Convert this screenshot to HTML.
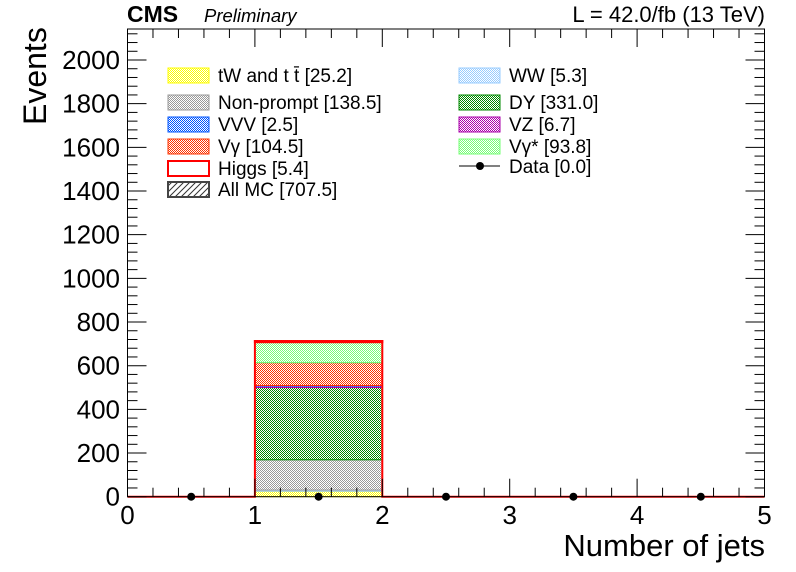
<!DOCTYPE html>
<html><head><meta charset="utf-8"><style>
body{margin:0;background:#fff;}
svg{display:block;font-family:"Liberation Sans",sans-serif;}
</style></head><body>
<svg id="c" width="796" height="572" viewBox="0 0 796 572">
<defs>
<pattern id="p-yellow" width="2" height="2" patternUnits="userSpaceOnUse"><rect width="2" height="2" fill="#fff"/><rect width="1" height="1" fill="#ffff00"/><rect x="1" y="1" width="1" height="1" fill="#ffff00"/></pattern>
<pattern id="p-grey" width="2" height="2" patternUnits="userSpaceOnUse"><rect width="2" height="2" fill="#fff"/><rect width="1" height="1" fill="#999"/><rect x="1" y="1" width="1" height="1" fill="#999"/></pattern>
<pattern id="p-blue" width="2" height="2" patternUnits="userSpaceOnUse"><rect width="2" height="2" fill="#fff"/><rect width="1" height="1" fill="#0055ff"/><rect x="1" y="1" width="1" height="1" fill="#0055ff"/></pattern>
<pattern id="p-orange" width="2" height="2" patternUnits="userSpaceOnUse"><rect width="2" height="2" fill="#fff"/><rect width="1" height="1" fill="#ff3300"/><rect x="1" y="1" width="1" height="1" fill="#ff3300"/></pattern>
<pattern id="p-lblue" width="2" height="2" patternUnits="userSpaceOnUse"><rect width="2" height="2" fill="#fff"/><rect width="1" height="1" fill="#99ccff"/><rect x="1" y="1" width="1" height="1" fill="#99ccff"/></pattern>
<pattern id="p-green" width="2" height="2" patternUnits="userSpaceOnUse"><rect width="2" height="2" fill="#fff"/><rect width="1" height="1" fill="#008800"/><rect x="1" y="1" width="1" height="1" fill="#008800"/></pattern>
<pattern id="p-purple" width="2" height="2" patternUnits="userSpaceOnUse"><rect width="2" height="2" fill="#fff"/><rect width="1" height="1" fill="#aa00aa"/><rect x="1" y="1" width="1" height="1" fill="#aa00aa"/></pattern>
<pattern id="p-lgreen" width="2" height="2" patternUnits="userSpaceOnUse"><rect width="2" height="2" fill="#fff"/><rect width="1" height="1" fill="#77ff77"/><rect x="1" y="1" width="1" height="1" fill="#77ff77"/></pattern>
<pattern id="p-hatch" width="6" height="6" patternUnits="userSpaceOnUse"><path d="M0,6 L6,0 M-1,1 L1,-1 M5,7 L7,5" stroke="#333" stroke-width="1"/></pattern>
</defs>
<g id="marks"></g>
<g id="axes"></g>
<g id="legend"></g>
<text x="127" y="22" font-size="23" font-weight="bold">CMS</text>
<text x="204" y="22" font-size="18.5" font-style="italic">Preliminary</text>
<text x="765" y="22" font-size="22" text-anchor="end">L = 42.0/fb (13 TeV)</text>
<text x="765" y="556" font-size="31" text-anchor="end">Number of jets</text>
<text transform="translate(46,125) rotate(-90)" font-size="32" text-anchor="start">Events</text>
</svg>
<script>
const binEdges=[0,1,2,3,4,5];
const stackNames=["tW and tt","WW","Non-prompt","DY","VZ","VVV","Vγ","Vγ*","Higgs"];
const stackFills=["url(#p-yellow)","url(#p-lblue)","url(#p-grey)","url(#p-green)","url(#p-purple)","url(#p-blue)","url(#p-orange)","url(#p-lgreen)","none"];
const stackStrokes=["#dddd00","#99ccff","#999","#008800","#aa00aa","#0055ff","#ff3300","#66ee66","#ff0000"];
const stackValues=[[0,25.2,0,0,0],[0,5.3,0,0,0],[0,138.5,0,0,0],[0,331.0,0,0,0],[0,6.7,0,0,0],[0,2.5,0,0,0],[0,104.5,0,0,0],[0,93.8,0,0,0],[0,5.4,0,0,0]];
const dataValues=[0,0,0,0,0];
const xTicks=[0,1,2,3,4,5];
const yTicks=[0,200,400,600,800,1000,1200,1400,1600,1800,2000];
const NS="http://www.w3.org/2000/svg";
const X0=127.5,X1=764.5,Y0=496.7,YT=29,XMAX=5,YMAX=2142;
const xs=v=>X0+(X1-X0)*v/XMAX;
const ys=v=>Y0-(Y0-YT)*v/YMAX;
function mk(t,a,p){const e=document.createElementNS(NS,t);for(const k in a)e.setAttribute(k,a[k]);p.appendChild(e);return e;}
const marks=document.getElementById('marks'),axes=document.getElementById('axes'),leg=document.getElementById('legend');
for(let b=0;b<binEdges.length-1;b++){
  let cum=0;
  for(let s=0;s<stackNames.length;s++){
    const v=stackValues[s][b];
    if(v<=0){cum+=v;continue;}
    const r=mk('rect',{x:xs(binEdges[b]),y:ys(cum+v),width:xs(binEdges[b+1])-xs(binEdges[b]),height:ys(cum)-ys(cum+v),fill:stackFills[s],stroke:stackStrokes[s],'stroke-width':s==8?2:1},marks);
    
    
    cum+=v;
  }
}
let d='';let tot=[];
for(let b=0;b<binEdges.length-1;b++){let c=0;for(let s=0;s<stackNames.length;s++)c+=stackValues[s][b];tot.push(c);}
d='M'+xs(binEdges[0])+','+ys(tot[0]);
for(let b=0;b<tot.length;b++){d+=' L'+xs(binEdges[b])+','+ys(tot[b])+' L'+xs(binEdges[b+1])+','+ys(tot[b]);}
const hl=mk('path',{d:d,fill:'none',stroke:'#ff0000','stroke-width':2},marks);


for(let b=0;b<dataValues.length;b++){
  const cx=xs((binEdges[b]+binEdges[b+1])/2);
  const p=mk('circle',{cx:cx,cy:ys(dataValues[b]),r:4,fill:'#000'},marks);
  
  
}
const fr=mk('rect',{x:X0,y:YT,width:X1-X0,height:Y0-YT,fill:'none',stroke:'#000','stroke-width':1},axes);


for(let v=0;v<=XMAX+1e-9;v+=0.2){
  const maj=Math.abs(v-Math.round(v))<1e-6,L=maj?18:9,x=xs(v);
  mk('line',{x1:x,x2:x,y1:Y0,y2:Y0-L,stroke:'#000'},axes);
  mk('line',{x1:x,x2:x,y1:YT,y2:YT+L,stroke:'#000'},axes);
}
xTicks.forEach(v=>{const t=mk('text',{x:xs(v),y:524,'font-size':26,'text-anchor':'middle'},axes);t.textContent=v;

});
for(let v=0;v<=YMAX;v+=40){
  const maj=v%200===0,L=maj?19:10,y=ys(v);
  mk('line',{x1:X0,x2:X0+L,y1:y,y2:y,stroke:'#000'},axes);
  mk('line',{x1:X1,x2:X1-L,y1:y,y2:y,stroke:'#000'},axes);
}
yTicks.forEach(v=>{const t=mk('text',{x:120,y:ys(v)+9,'font-size':26,'text-anchor':'end'},axes);t.textContent=v;

});
const legItems=[
 [168,75,"url(#p-yellow)","#ffff00","tW and t t̄ [25.2]"],
 [168,102,"url(#p-grey)","#999","Non-prompt [138.5]"],
 [168,124,"url(#p-blue)","#0055ff","VVV [2.5]"],
 [168,146,"url(#p-orange)","#ff3300","Vγ [104.5]"],
 [168,168,"#fff","#ff0000","Higgs [5.4]"],
 [168,189,"url(#p-hatch)","#444","All MC [707.5]"],
 [459,75,"url(#p-lblue)","#99ccff","WW [5.3]"],
 [459,102,"url(#p-green)","#008800","DY [331.0]"],
 [459,124,"url(#p-purple)","#aa00aa","VZ [6.7]"],
 [459,146,"url(#p-lgreen)","#77ff77","Vγ* [93.8]"]];
legItems.forEach((it,i)=>{
  const g=mk('g',{},leg);
  
  
  mk('rect',{x:it[0],y:it[1]-7,width:41,height:15,fill:it[2],stroke:it[3],'stroke-width':(i==4||i==5)?2:1},g);
  const t=mk('text',{x:it[0]+50,y:it[1]+7,'font-size':19},g);t.textContent=it[4];
});
const gd=mk('g',{},leg);


mk('line',{x1:459,x2:500,y1:166,y2:166,stroke:'#000'},gd);
mk('circle',{cx:480,cy:166,r:4,fill:'#000'},gd);
const td=mk('text',{x:509,y:173,'font-size':19},gd);td.textContent="Data [0.0]";
</script>
</body></html>
